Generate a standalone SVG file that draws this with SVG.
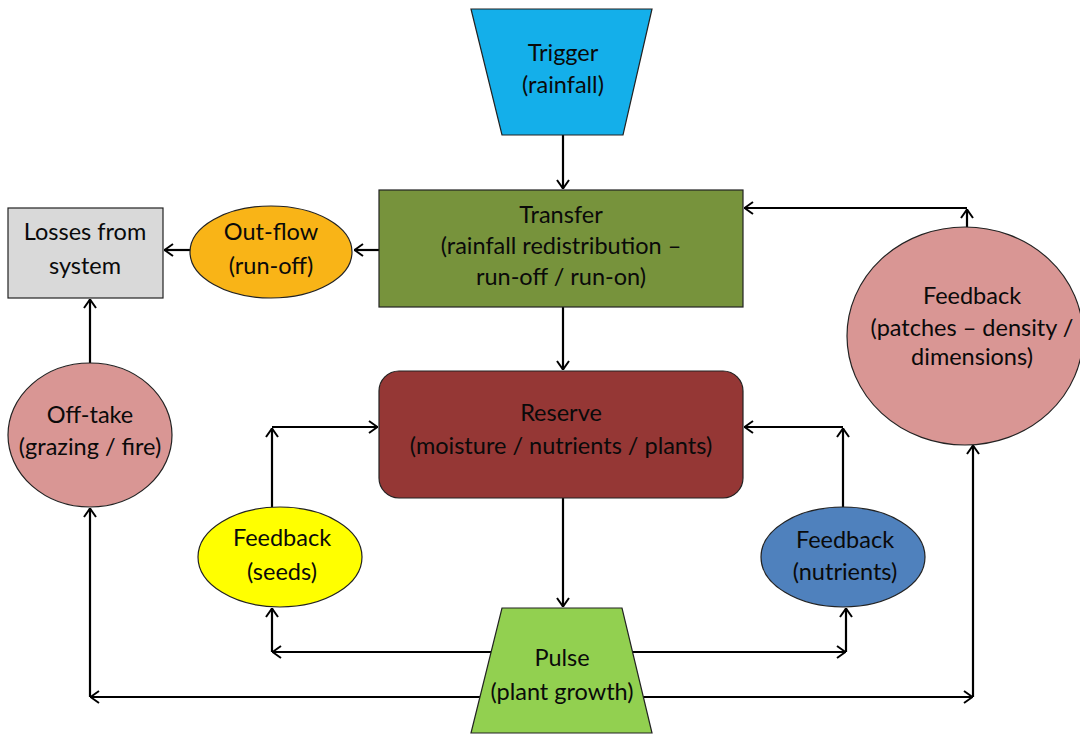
<svg xmlns="http://www.w3.org/2000/svg" width="1080" height="734" viewBox="0 0 1080 734">
<defs>
<marker id="arr" viewBox="0 0 10 14" refX="10" refY="7" markerWidth="10" markerHeight="14" orient="auto" markerUnits="userSpaceOnUse">
<path d="M1,1 L9.5,7 L1,13" fill="none" stroke="#000" stroke-width="2"/>
</marker>
</defs>
<style>
.shape{stroke:#222;stroke-width:1.2}
.t{font-family:Lato,"Liberation Sans",sans-serif;font-size:23.5px;fill:#0a0a0a;text-anchor:middle}
.c{fill:none;stroke:#000;stroke-width:2.2;marker-end:url(#arr)}
</style>
<rect width="1080" height="734" fill="#fff"/>
<g id="connectors">
<path class="c" d="M563,135 V189"/>
<path class="c" d="M563,307 V370"/>
<path class="c" d="M563,498 V607"/>
<path class="c" d="M379,250 H354"/>
<path class="c" d="M190,250 H164"/>
<path class="c" d="M90,363 V299"/>
<path class="c" d="M272,507 V428"/>
<path class="c" d="M272,427 H378"/>
<path class="c" d="M843,507 V428"/>
<path class="c" d="M843,427 H744"/>
<path class="c" d="M967,227 V209"/>
<path class="c" d="M967,208 H744"/>
<path class="c" d="M491,652 H272"/>
<path class="c" d="M272,652 V608"/>
<path class="c" d="M633,652 H846"/>
<path class="c" d="M846,652 V608"/>
<path class="c" d="M480,697 H90"/>
<path class="c" d="M90,697 V508"/>
<path class="c" d="M643,697 H973"/>
<path class="c" d="M973,697 V445"/>
</g>
<g id="trigger">
<polygon class="shape" points="471,9 652,9 623,135 502,135" fill="#14AFEA"/>
<text class="t" x="563" y="61">Trigger</text>
<text class="t" x="563" y="93">(rainfall)</text>
</g>
<g id="transfer">
<rect class="shape" x="379" y="190" width="364" height="117" fill="#77933C"/>
<text class="t" x="561" y="223">Transfer</text>
<text class="t" x="561" y="254">(rainfall redistribution –</text>
<text class="t" x="561" y="285">run-off / run-on)</text>
</g>
<g id="outflow">
<ellipse class="shape" cx="271" cy="252" rx="81" ry="46" fill="#F9B417"/>
<text class="t" x="271" y="240">Out-flow</text>
<text class="t" x="271" y="274">(run-off)</text>
</g>
<g id="losses">
<rect class="shape" x="8" y="208" width="155" height="90" fill="#D9D9D9"/>
<text class="t" x="85" y="240">Losses from</text>
<text class="t" x="85" y="274">system</text>
</g>
<g id="offtake">
<ellipse class="shape" cx="90" cy="435" rx="82" ry="72" fill="#D99694"/>
<text class="t" x="90" y="423">Off-take</text>
<text class="t" x="90" y="455">(grazing / fire)</text>
</g>
<g id="feedback-patches">
<ellipse class="shape" cx="965" cy="336" rx="118" ry="109" fill="#D99694"/>
<text class="t" x="972" y="304">Feedback</text>
<text class="t" x="972" y="336">(patches – density /</text>
<text class="t" x="972" y="365">dimensions)</text>
</g>
<g id="reserve">
<rect class="shape" x="379" y="371" width="364" height="127" rx="20" ry="20" fill="#953735"/>
<text class="t" x="561" y="421">Reserve</text>
<text class="t" x="561" y="454">(moisture / nutrients / plants)</text>
</g>
<g id="feedback-seeds">
<ellipse class="shape" cx="280" cy="557" rx="82" ry="50" fill="#FFFF00"/>
<text class="t" x="282" y="546">Feedback</text>
<text class="t" x="282" y="580">(seeds)</text>
</g>
<g id="feedback-nutrients">
<ellipse class="shape" cx="843" cy="557" rx="82" ry="50" fill="#4F81BD"/>
<text class="t" x="845" y="548">Feedback</text>
<text class="t" x="845" y="580">(nutrients)</text>
</g>
<g id="pulse">
<polygon class="shape" points="502,608 622,608 652,733 471,733" fill="#92D050"/>
<text class="t" x="562" y="666">Pulse</text>
<text class="t" x="562" y="700">(plant growth)</text>
</g>
</svg>
